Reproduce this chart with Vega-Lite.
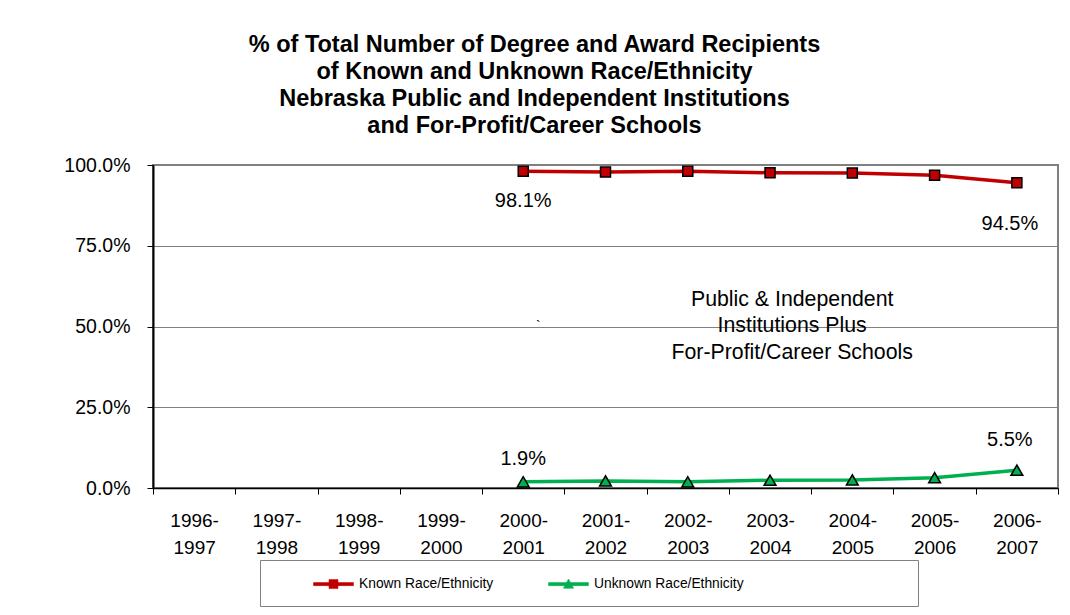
{
  "$schema": "https://vega.github.io/schema/vega-lite/v6.json",
  "width": 905,
  "height": 323,
  "autosize": {"type": "none"},
  "padding": {"left": 153, "top": 165, "right": 12, "bottom": 127},
  "background": "white",
  "config": {
    "font": "Liberation Sans",
    "view": {"stroke": "#808080", "strokeWidth": 2}
  },
  "title": {
    "text": ["% of Total Number of Degree and Award Recipients", "of Known and Unknown Race/Ethnicity", "Nebraska Public and Independent Institutions", "and For-Profit/Career Schools"],
    "font": "Liberation Sans",
    "fontSize": 23.5,
    "fontWeight": "bold",
    "color": "black",
    "lineHeight": 27,
    "anchor": "middle",
    "frame": "group",
    "dx": -71,
    "offset": 18
  },
  "data": {
    "values": [
      {"year": "2000-2001", "series": "Known Race/Ethnicity", "value": 0.981},
      {"year": "2001-2002", "series": "Known Race/Ethnicity", "value": 0.978},
      {"year": "2002-2003", "series": "Known Race/Ethnicity", "value": 0.981},
      {"year": "2003-2004", "series": "Known Race/Ethnicity", "value": 0.976},
      {"year": "2004-2005", "series": "Known Race/Ethnicity", "value": 0.975},
      {"year": "2005-2006", "series": "Known Race/Ethnicity", "value": 0.968},
      {"year": "2006-2007", "series": "Known Race/Ethnicity", "value": 0.945},
      {"year": "2000-2001", "series": "Unknown Race/Ethnicity", "value": 0.019},
      {"year": "2001-2002", "series": "Unknown Race/Ethnicity", "value": 0.022},
      {"year": "2002-2003", "series": "Unknown Race/Ethnicity", "value": 0.019},
      {"year": "2003-2004", "series": "Unknown Race/Ethnicity", "value": 0.024},
      {"year": "2004-2005", "series": "Unknown Race/Ethnicity", "value": 0.025},
      {"year": "2005-2006", "series": "Unknown Race/Ethnicity", "value": 0.032},
      {"year": "2006-2007", "series": "Unknown Race/Ethnicity", "value": 0.055}
    ]
  },
  "encoding": {
    "x": {
      "field": "year",
      "type": "nominal",
      "bandPosition": 0.5,
      "title": null,
      "scale": {
        "type": "band",
        "domain": ["1996-1997", "1997-1998", "1998-1999", "1999-2000", "2000-2001", "2001-2002", "2002-2003", "2003-2004", "2004-2005", "2005-2006", "2006-2007"],
        "paddingInner": 0,
        "paddingOuter": 0
      },
      "axis": {
        "grid": false,
        "domainColor": "black",
        "domainWidth": 1.5,
        "tickColor": "black",
        "tickSize": 6,
        "tickBand": "extent",
        "labelAngle": 0,
        "labelFontSize": 19,
        "labelColor": "black",
        "labelPadding": 17,
        "labelLineHeight": 27,
        "labelOverlap": false,
        "labelExpr": "[slice(datum.label, 0, 5), slice(datum.label, 5)]"
      }
    },
    "y": {
      "field": "value",
      "type": "quantitative",
      "title": null,
      "scale": {"domain": [0, 1]},
      "axis": {
        "values": [0, 0.25, 0.5, 0.75, 1],
        "format": ".1%",
        "grid": true,
        "gridColor": "#808080",
        "gridWidth": 1,
        "domainColor": "black",
        "domainWidth": 2,
        "tickColor": "black",
        "tickSize": 6,
        "labelFontSize": 19.5,
        "labelColor": "black",
        "labelPadding": 17
      }
    }
  },
  "layer": [
    {
      "mark": {"type": "line", "strokeWidth": 3.5},
      "encoding": {
        "color": {
          "field": "series",
          "type": "nominal",
          "scale": {"domain": ["Known Race/Ethnicity", "Unknown Race/Ethnicity"], "range": ["#C00000", "#00B050"]},
          "legend": {
            "orient": "none",
            "legendX": 107,
            "legendY": 395,
            "direction": "horizontal",
            "title": " ",
            "titleOrient": "right",
            "titlePadding": 159,
            "padding": 15,
            "strokeColor": "#808080",
            "fillColor": "white",
            "labelFontSize": 13.8,
            "labelColor": "black",
            "labelLimit": 400,
            "labelOffset": 16.5,
            "symbolSize": 289,
            "symbolOffset": 49.5,
            "columnPadding": 16,
            "encode": {
              "symbols": {
                "update": {
                  "shape": {"signal": "datum.value == 'Known Race/Ethnicity' ? 'M-2.35,-0.18H2.35V0.18H-2.35Z M-0.53,-0.53H0.53V0.53H-0.53Z' : 'M-2.35,-0.18H2.35V0.18H-2.35Z M0,-0.6L0.6,0.5H-0.6Z'"},
                  "fill": {"scale": "color", "field": "value"},
                  "stroke": {"scale": "color", "field": "value"},
                  "strokeWidth": {"value": 0.5},
                  "opacity": {"value": 1}
                }
              }
            }
          }
        }
      }
    },
    {
      "transform": [{"filter": "datum.series == 'Known Race/Ethnicity'"}],
      "mark": {"type": "point", "shape": "square", "filled": true, "fill": "#C00000", "stroke": "black", "strokeWidth": 1.5, "opacity": 1, "size": 100}
    },
    {
      "transform": [{"filter": "datum.series == 'Unknown Race/Ethnicity'"}],
      "mark": {"type": "point", "shape": "triangle-up", "filled": true, "fill": "#00B050", "stroke": "black", "strokeWidth": 1.5, "opacity": 1, "size": 140}
    },
    {
      "transform": [{"filter": "datum.series == 'Known Race/Ethnicity' && datum.year == '2000-2001'"}],
      "mark": {"type": "text", "fontSize": 20, "color": "black", "baseline": "middle", "dy": 30},
      "encoding": {"text": {"field": "value", "type": "quantitative", "format": ".1%"}}
    },
    {
      "transform": [{"filter": "datum.series == 'Known Race/Ethnicity' && datum.year == '2006-2007'"}],
      "mark": {"type": "text", "fontSize": 20, "color": "black", "baseline": "middle", "dy": 41, "dx": -7},
      "encoding": {"text": {"field": "value", "type": "quantitative", "format": ".1%"}}
    },
    {
      "transform": [{"filter": "datum.series == 'Unknown Race/Ethnicity' && datum.year == '2000-2001'"}],
      "mark": {"type": "text", "fontSize": 20, "color": "black", "baseline": "middle", "dy": -23},
      "encoding": {"text": {"field": "value", "type": "quantitative", "format": ".1%"}}
    },
    {
      "transform": [{"filter": "datum.series == 'Unknown Race/Ethnicity' && datum.year == '2006-2007'"}],
      "mark": {"type": "text", "fontSize": 20, "color": "black", "baseline": "middle", "dy": -30, "dx": -7},
      "encoding": {"text": {"field": "value", "type": "quantitative", "format": ".1%"}}
    },
    {
      "data": {"values": [{"year": "2003-2004", "value": 0.5, "note": "Public & Independent\nInstitutions Plus\nFor-Profit/Career Schools"}]},
      "mark": {"type": "text", "fontSize": 21.3, "color": "black", "baseline": "middle", "align": "center", "lineBreak": "\n", "lineHeight": 26.5, "dy": -27, "dx": -19},
      "encoding": {
        "x": {"field": "year", "type": "nominal", "bandPosition": 1},
        "text": {"field": "note"}
      }
    },
    {
      "data": {"values": [{"year": "2000-2001", "value": 0.51, "note": "`"}]},
      "mark": {"type": "text", "fontSize": 14, "color": "black", "baseline": "middle", "align": "center", "dx": 15, "dy": 4},
      "encoding": {"text": {"field": "note"}}
    }
  ]
}
